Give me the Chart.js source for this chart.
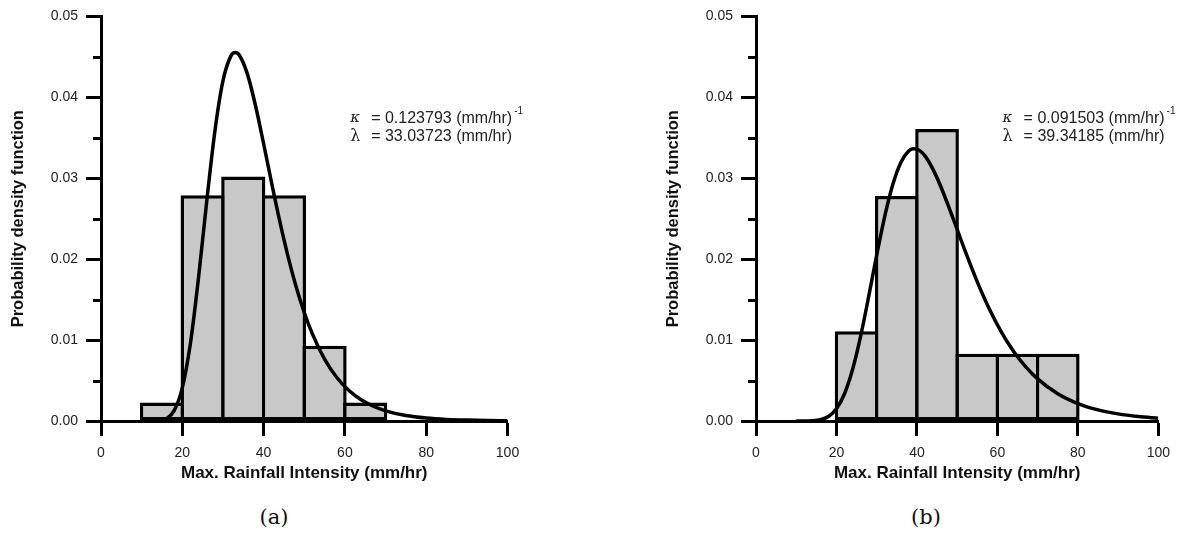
<!DOCTYPE html>
<html>
<head>
<meta charset="utf-8">
<script src="https://cdn.jsdelivr.net/npm/chart.js@4.4.1/dist/chart.umd.min.js"></script>
<style>
  body { margin: 0; background: #fff; width: 1179px; height: 535px; position: relative; overflow: hidden; }
  canvas { position: absolute; top: 0; }
  #chartA { left: 0; }
  #chartB { left: 655px; }
  .cap { position: absolute; top: 505px; width: 60px; text-align: center; font-family: 'DejaVu Serif', serif; font-size: 21px; color: #111; }
</style>
</head>
<body>
<canvas id="chartA" width="560" height="500"></canvas>
<canvas id="chartB" width="524" height="500"></canvas>
<div class="cap" style="left:244px">(a)</div>
<div class="cap" style="left:896px">(b)</div>
<script>
// Histogramas (centro de clase, densidad)
const binsA = [15, 25, 35, 45, 55, 65];
const densityA = [0.0023, 0.0279, 0.0302, 0.0279, 0.0093, 0.0023];
const binsB = [25, 35, 45, 55, 65, 75];
const densityB = [0.0111, 0.0278, 0.0361, 0.0083, 0.0083, 0.0083];

// Curvas ajustadas
const curveXA = [10, 14, 16, 18, 20, 22, 24, 26, 28, 30, 32, 33, 34, 36, 38, 40, 42, 44, 46, 48, 50, 52, 55, 58, 61, 64, 67, 70, 75, 80, 85, 90, 95, 100];
const curveYA = [0.0000, 0.00003, 0.00027, 0.00128, 0.00410, 0.00962, 0.01775, 0.02711, 0.03575, 0.04203, 0.04515, 0.04554, 0.04523, 0.04290, 0.03899, 0.03428, 0.02935, 0.02463, 0.02035, 0.01660, 0.01341, 0.01076, 0.00765, 0.00538, 0.00377, 0.00262, 0.00182, 0.00126, 0.00068, 0.00037, 0.00020, 0.00011, 0.00006, 0.00003];
const curveXB = [10, 14, 16, 18, 20, 22, 24, 26, 28, 30, 32, 34, 36, 38, 39, 40, 42, 44, 46, 48, 50, 52, 55, 58, 61, 64, 67, 70, 75, 80, 85, 90, 95, 100];
const curveYB = [0.0000, 0.00004, 0.00016, 0.00056, 0.00152, 0.00337, 0.00636, 0.01046, 0.01536, 0.02050, 0.02529, 0.02922, 0.03196, 0.03340, 0.03365, 0.03360, 0.03276, 0.03110, 0.02889, 0.02635, 0.02367, 0.02099, 0.01720, 0.01384, 0.01099, 0.00863, 0.00673, 0.00521, 0.00337, 0.00216, 0.00138, 0.00088, 0.00056, 0.00035];

// Ticks
const xTicks = [0, 20, 40, 60, 80, 100];
const yTicks = [0.00, 0.01, 0.02, 0.03, 0.04, 0.05];
const yMinorTicks = [0.005, 0.015, 0.025, 0.035, 0.045];

// Parametros mostrados
const paramsA = ['= 0.123793 (mm/hr)', '= 33.03723 (mm/hr)'];
const paramsB = ['= 0.091503 (mm/hr)', '= 39.34185 (mm/hr)'];

Chart.defaults.font.family = "'Liberation Sans', Arial, sans-serif";
Chart.defaults.color = '#222';

// Plugin: ticks menores y texto de parametros
const extras = {
    id: 'extras',
    afterDraw(chart, args, opts) {
        const ctx = chart.ctx;
        const xs = chart.scales.x;
        const ys = chart.scales.y;
        const left = chart.chartArea.left;
        ctx.save();
        ctx.strokeStyle = '#000';
        ctx.lineWidth = 3;
        yMinorTicks.forEach(v => {
            const py = Math.round(ys.getPixelForValue(v)) + 0.5;
            ctx.beginPath();
            ctx.moveTo(left - 8, py);
            ctx.lineTo(left, py);
            ctx.stroke();
        });

        const px = xs.getPixelForValue(61.3);
        const py1 = ys.getPixelForValue(0.0374);
        const py2 = ys.getPixelForValue(0.0351);
        ctx.fillStyle = '#222';
        ctx.textBaseline = 'middle';
        ctx.font = "italic 15px 'DejaVu Serif', serif";
        ctx.fillText('\u03BA', px, py1);
        ctx.font = "16px 'DejaVu Serif', serif";
        ctx.fillText('\u03BB', px, py2);
        ctx.font = "16px 'Liberation Sans', Arial, sans-serif";
        ctx.fillText(opts.lines[0], px + 21, py1);
        const w = ctx.measureText(opts.lines[0]).width;
        ctx.fillText(opts.lines[1], px + 21, py2);
        ctx.font = "10px 'Liberation Sans', Arial, sans-serif";
        ctx.fillText('-1', px + 21 + w + 2, py1 - 7);
        ctx.restore();
    }
};

function makeChart(id, bins, dens, cx, cy, lines, padRight) {
    const ctx = document.getElementById(id).getContext('2d');
    return new Chart(ctx, {
        type: 'bar',
        data: {
            datasets: [{
                type: 'line',
                data: cx.map((x, i) => ({ x: x, y: cy[i] })),
                borderColor: '#000',
                borderWidth: 3.5,
                pointRadius: 0,
                cubicInterpolationMode: 'monotone',
                fill: false
            }, {
                type: 'bar',
                data: bins.map((x, i) => ({ x: x, y: dens[i] })),
                backgroundColor: '#c8c8c8',
                borderColor: '#000',
                borderWidth: 3.5,
                borderSkipped: false,
                barPercentage: 1.086,
                categoryPercentage: 1
            }]
        },
        plugins: [extras],
        options: {
            responsive: false,
            animation: false,
            layout: { padding: { left: 0, top: 15, right: padRight, bottom: 0 } },
            plugins: {
                legend: { display: false },
                tooltip: { enabled: false },
                extras: { lines: lines }
            },
            scales: {
                x: {
                    type: 'linear',
                    min: 0,
                    max: 100,
                    offset: false,
                    afterFit: (scale) => { scale.height = 79; },
                    afterBuildTicks: (scale) => { scale.ticks = xTicks.map(v => ({ value: v })); },
                    ticks: { font: { size: 14 }, padding: 9, maxRotation: 0 },
                    grid: { drawOnChartArea: false, offset: false, tickLength: 15, tickWidth: 3, tickColor: '#000' },
                    border: { display: true, width: 3, color: '#000' },
                    title: {
                        display: true,
                        text: 'Max. Rainfall Intensity (mm/hr)',
                        color: '#111',
                        font: { size: 17, weight: 'bold' },
                        padding: { top: 0, bottom: 16 }
                    }
                },
                y: {
                    min: 0,
                    max: 0.05,
                    afterFit: (scale) => { scale.width = 101; },
                    afterBuildTicks: (scale) => { scale.ticks = yTicks.map(v => ({ value: v })); },
                    ticks: { font: { size: 14 }, padding: 8, callback: v => v.toFixed(2) },
                    grid: { drawOnChartArea: false, tickLength: 15, tickWidth: 3, tickColor: '#000' },
                    border: { display: true, width: 3, color: '#000' },
                    title: {
                        display: true,
                        text: 'Probability density function',
                        color: '#111',
                        font: { size: 16.5, weight: 'bold' },
                        padding: { top: 9, bottom: 0 }
                    }
                }
            }
        }
    });
}

makeChart('chartA', binsA, densityA, curveXA, curveYA, paramsA, 52.5);
makeChart('chartB', binsB, densityB, curveXB, curveYB, paramsB, 17);
</script>
</body>
</html>
